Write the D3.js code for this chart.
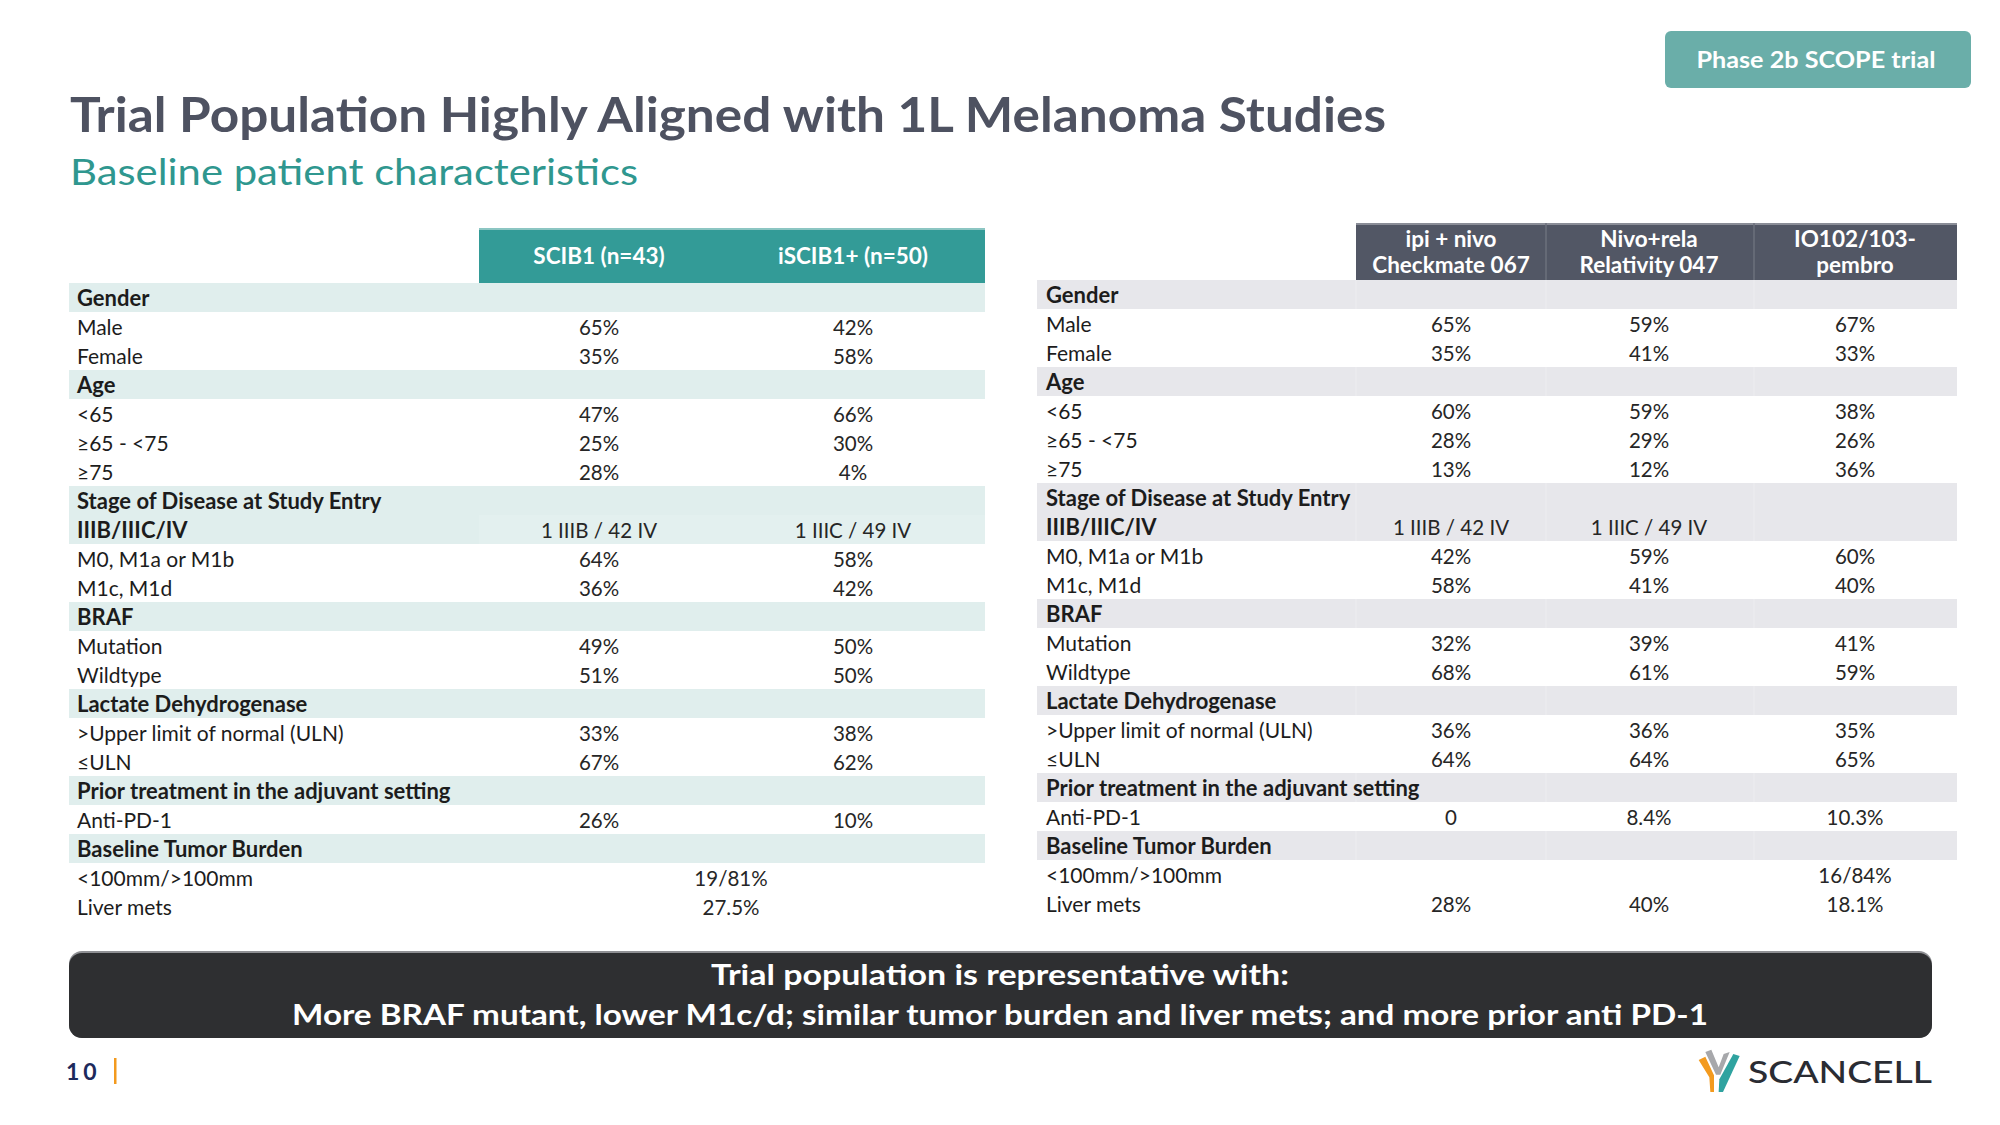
<!DOCTYPE html>
<html>
<head>
<meta charset="utf-8">
<script src="https://cdn.jsdelivr.net/npm/d3@7"></script>
<style>
  html, body { margin: 0; padding: 0; background: #ffffff; }
  svg { display: block; }
  text { font-family: Lato, "Noto Sans", sans-serif; }
</style>
</head>
<body>
<svg id="chart" width="2000" height="1125" viewBox="0 0 2000 1125"></svg>
<script>
// ---------------- DATA ----------------
const titleText = "Trial Population Highly Aligned with 1L Melanoma Studies";
const subtitleText = "Baseline patient characteristics";
const badgeText = "Phase 2b SCOPE trial";

const leftHeaders = ["SCIB1 (n=43)", "iSCIB1+ (n=50)"];
const rightHeaders = [["ipi + nivo", "Checkmate 067"], ["Nivo+rela", "Relativity 047"], ["IO102/103-", "pembro"]];

const rowLabels = [
  "Gender", "Male", "Female",
  "Age", "<65", "\u226565 - <75", "\u226575",
  "Stage of Disease at Study Entry", "IIIB/IIIC/IV", "M0, M1a or M1b", "M1c, M1d",
  "BRAF", "Mutation", "Wildtype",
  "Lactate Dehydrogenase", ">Upper limit of normal (ULN)", "\u2264ULN",
  "Prior treatment in the adjuvant setting", "Anti-PD-1",
  "Baseline Tumor Burden", "<100mm/>100mm", "Liver mets"
];
// "section" = bold shaded header row, "sub" = bold shaded data row, "item" = plain row
const rowTypes = [
  "section", "item", "item",
  "section", "item", "item", "item",
  "section", "sub", "item", "item",
  "section", "item", "item",
  "section", "item", "item",
  "section", "item",
  "section", "item", "item"
];

const scib1Values = ["", "65%", "35%", "", "47%", "25%", "28%", "", "1 IIIB / 42 IV", "64%", "36%",
  "", "49%", "51%", "", "33%", "67%", "", "26%", "", "", ""];
const iscib1Values = ["", "42%", "58%", "", "66%", "30%", "4%", "", "1 IIIC / 49 IV", "58%", "42%",
  "", "50%", "50%", "", "38%", "62%", "", "10%", "", "", ""];
// values spanning both SCOPE columns
const scopeSpanValues = ["", "", "", "", "", "", "", "", "", "", "",
  "", "", "", "", "", "", "", "", "", "19/81%", "27.5%"];

const checkmate067Values = ["", "65%", "35%", "", "60%", "28%", "13%", "", "1 IIIB / 42 IV", "42%", "58%",
  "", "32%", "68%", "", "36%", "64%", "", "0", "", "", "28%"];
const relativity047Values = ["", "59%", "41%", "", "59%", "29%", "12%", "", "1 IIIC / 49 IV", "59%", "41%",
  "", "39%", "61%", "", "36%", "64%", "", "8.4%", "", "", "40%"];
const io102Values = ["", "67%", "33%", "", "38%", "26%", "36%", "", "", "60%", "40%",
  "", "41%", "59%", "", "35%", "65%", "", "10.3%", "", "16/84%", "18.1%"];

const summaryLines = [
  "Trial population is representative with:",
  "More BRAF mutant, lower M1c/d; similar tumor burden and liver mets; and more prior anti PD-1"
];
const pageNumber = "10";
const logoText = "SCANCELL";

// ---------------- DRAW ----------------
const svg = d3.select("#chart");
const rowIdx = d3.range(rowLabels.length);
const labelSize = i => rowTypes[i] === "item" ? 21 : 22;
const labelWeight = i => rowTypes[i] === "item" ? 400 : 700;

// Title
svg.append("text").attr("x", 70).attr("y", 132)
  .attr("font-size", 47).attr("font-weight", 700).attr("fill", "#4e5261")
  .attr("textLength", 1316).attr("lengthAdjust", "spacingAndGlyphs")
  .text(titleText);
svg.append("text").attr("x", 70).attr("y", 185)
  .attr("font-size", 36).attr("font-weight", 400).attr("fill", "#2f978f")
  .attr("textLength", 568).attr("lengthAdjust", "spacingAndGlyphs")
  .text(subtitleText);

// Badge
svg.append("rect").attr("x", 1665).attr("y", 31).attr("width", 306).attr("height", 57)
  .attr("rx", 6).attr("fill", "#6aaea9");
svg.append("text").attr("x", 1816).attr("y", 68).attr("text-anchor", "middle")
  .attr("font-size", 23).attr("font-weight", 700).attr("fill", "#ffffff")
  .attr("textLength", 239).attr("lengthAdjust", "spacingAndGlyphs")
  .text(badgeText);

// ---------- Left table ----------
const L = { x0: 69, x1: 985, top: 283, rowH: 29, hdrX0: 479, hdrTop: 228 };
const yL = d3.scaleBand().domain(rowIdx).range([L.top, L.top + L.rowH * rowIdx.length]).padding(0);
const xL = d3.scaleOrdinal().domain([0, 1, "span"]).range([599, 853, 731]);

const gL = svg.append("g");
gL.append("rect").attr("x", L.hdrX0).attr("y", L.hdrTop).attr("width", L.x1 - L.hdrX0)
  .attr("height", L.top - L.hdrTop).attr("fill", "#339b97");
gL.append("rect").attr("x", L.hdrX0).attr("y", L.hdrTop).attr("width", L.x1 - L.hdrX0)
  .attr("height", 2).attr("fill", "#8cc6c3");
gL.selectAll("text.lh").data(leftHeaders).join("text").attr("class", "lh")
  .attr("x", (d, i) => xL(i)).attr("y", 264).attr("text-anchor", "middle")
  .attr("font-size", 22.5).attr("font-weight", 700).attr("fill", "#ffffff").text(d => d);

gL.selectAll("rect.band").data(rowIdx.filter(i => rowTypes[i] !== "item")).join("rect")
  .attr("class", "band").attr("x", L.x0).attr("y", i => yL(i))
  .attr("width", L.x1 - L.x0).attr("height", yL.bandwidth()).attr("fill", "#e0eeed");
gL.selectAll("rect.subv").data(rowIdx.filter(i => rowTypes[i] === "sub")).join("rect")
  .attr("class", "subv").attr("x", L.hdrX0).attr("y", i => yL(i))
  .attr("width", L.x1 - L.hdrX0).attr("height", yL.bandwidth()).attr("fill", "#e3f0ef");

gL.selectAll("text.lab").data(rowIdx).join("text").attr("class", "lab")
  .attr("x", L.x0 + 8).attr("y", i => yL(i) + 22.5)
  .attr("font-size", labelSize).attr("font-weight", labelWeight)
  .attr("fill", "#1c1c1c").text(i => rowLabels[i]);

[scib1Values, iscib1Values].forEach((vals, c) => {
  gL.selectAll("text.v" + c).data(rowIdx.filter(i => vals[i] !== "")).join("text")
    .attr("class", "v" + c).attr("x", xL(c)).attr("y", i => yL(i) + 23)
    .attr("text-anchor", "middle").attr("font-size", 20.5).attr("fill", "#262626")
    .text(i => vals[i]);
});
gL.selectAll("text.vs").data(rowIdx.filter(i => scopeSpanValues[i] !== "")).join("text")
  .attr("class", "vs").attr("x", xL("span")).attr("y", i => yL(i) + 23)
  .attr("text-anchor", "middle").attr("font-size", 20.5).attr("fill", "#262626")
  .text(i => scopeSpanValues[i]);

// ---------- Right table ----------
const R = { x0: 1037, x1: 1957, top: 280, rowH: 29, hdrX0: 1356, hdrTop: 223 };
const yR = d3.scaleBand().domain(rowIdx).range([R.top, R.top + R.rowH * rowIdx.length]).padding(0);
const colEdges = [1356, 1546, 1754, 1957];
const xR = d3.scaleOrdinal().domain([0, 1, 2]).range([1451, 1649, 1855]);

const gR = svg.append("g");
gR.append("rect").attr("x", R.hdrX0).attr("y", R.hdrTop).attr("width", R.x1 - R.hdrX0)
  .attr("height", R.top - R.hdrTop).attr("fill", "#525765");
gR.append("rect").attr("x", R.hdrX0).attr("y", R.hdrTop).attr("width", R.x1 - R.hdrX0)
  .attr("height", 2).attr("fill", "#8a8d97");
gR.selectAll("line.div").data([colEdges[1], colEdges[2]]).join("line").attr("class", "div")
  .attr("x1", d => d).attr("x2", d => d).attr("y1", R.hdrTop).attr("y2", R.top)
  .attr("stroke", "#6c707c").attr("stroke-width", 1.5);
rightHeaders.forEach((lines, c) => {
  gR.selectAll("text.rh" + c).data(lines).join("text").attr("class", "rh" + c)
    .attr("x", xR(c)).attr("y", (d, j) => 247 + j * 26).attr("text-anchor", "middle")
    .attr("font-size", 22.5).attr("font-weight", 700).attr("fill", "#ffffff").text(d => d);
});

gR.selectAll("rect.band").data(rowIdx.filter(i => rowTypes[i] !== "item")).join("rect")
  .attr("class", "band").attr("x", R.x0).attr("y", i => yR(i))
  .attr("width", R.x1 - R.x0).attr("height", yR.bandwidth()).attr("fill", "#e7e7eb");
gR.selectAll("line.bsep").data(rowIdx.filter(i => rowTypes[i] !== "item").flatMap(i => colEdges.slice(0, 3).map(e => [i, e])))
  .join("line").attr("class", "bsep")
  .attr("x1", d => d[1]).attr("x2", d => d[1]).attr("y1", d => yR(d[0])).attr("y2", d => yR(d[0]) + yR.bandwidth())
  .attr("stroke", "#ededf0").attr("stroke-width", 1);

gR.selectAll("text.lab").data(rowIdx).join("text").attr("class", "lab")
  .attr("x", R.x0 + 9).attr("y", i => yR(i) + 22.5)
  .attr("font-size", labelSize).attr("font-weight", labelWeight)
  .attr("fill", "#1c1c1c").text(i => rowLabels[i]);

[checkmate067Values, relativity047Values, io102Values].forEach((vals, c) => {
  gR.selectAll("text.v" + c).data(rowIdx.filter(i => vals[i] !== "")).join("text")
    .attr("class", "v" + c).attr("x", xR(c)).attr("y", i => yR(i) + 23)
    .attr("text-anchor", "middle").attr("font-size", 20.5).attr("fill", "#262626")
    .text(i => vals[i]);
});

// ---------- Summary box ----------
svg.append("rect").attr("x", 69).attr("y", 951).attr("width", 1863).attr("height", 87)
  .attr("rx", 13).attr("fill", "#8f9094");
svg.append("rect").attr("x", 69).attr("y", 953).attr("width", 1863).attr("height", 85)
  .attr("rx", 13).attr("fill", "#2e2f31");
svg.selectAll("text.sum").data(summaryLines).join("text").attr("class", "sum")
  .attr("x", 1000).attr("y", (d, i) => 985 + i * 40).attr("text-anchor", "middle")
  .attr("font-size", 29).attr("font-weight", 700).attr("fill", "#ffffff")
  .attr("textLength", (d, i) => i === 0 ? 578 : 1416).attr("lengthAdjust", "spacingAndGlyphs")
  .text(d => d);

// ---------- Footer ----------
svg.append("text").attr("x", 66).attr("y", 1080).attr("font-size", 23).attr("font-weight", 700)
  .attr("fill", "#1d2a5c").attr("letter-spacing", 4).text(pageNumber);
svg.append("rect").attr("x", 114).attr("y", 1058).attr("width", 2.5).attr("height", 26).attr("fill", "#f39a1e");

const logo = svg.append("g");
const P = pts => pts.map(p => [1680 + p[0] / 3, 1030 + p[1] / 3]);
const lineGen = d3.line().curve(d3.curveLinearClosed);
logo.append("path").attr("d", lineGen(P([[56, 90], [76, 80], [102, 136], [102, 186], [91, 186], [88, 142]]))).attr("fill", "#f39a1e");
logo.append("path").attr("d", lineGen(P([[76, 66], [94, 59], [116, 112], [131, 72], [149, 66], [121, 134], [108, 134]]))).attr("fill", "#a7a8ab");
logo.append("path").attr("d", lineGen(P([[160, 72], [179, 78], [129, 186], [116, 186], [118, 148]]))).attr("fill", "#2fa3a0");
logo.append("text").attr("x", 1748).attr("y", 1083).attr("font-size", 30).attr("font-weight", 500)
  .attr("fill", "#2a2c33").attr("textLength", 184).attr("lengthAdjust", "spacingAndGlyphs")
  .text(logoText);
</script>
</body>
</html>
